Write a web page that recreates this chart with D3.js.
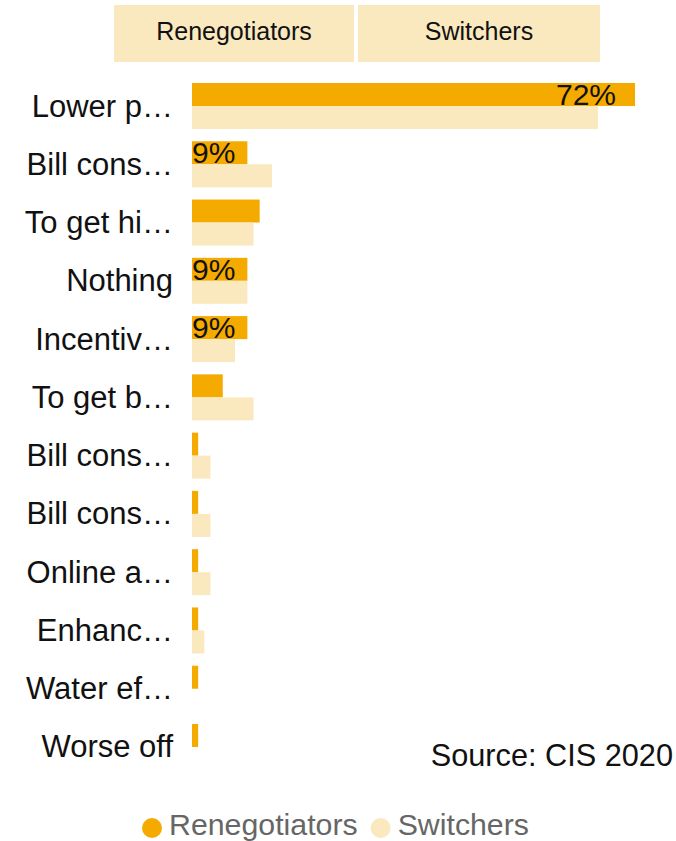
<!DOCTYPE html>
<html>
<head>
<meta charset="utf-8">
<script src="https://cdn.jsdelivr.net/npm/d3@7"></script>
<style>
  html, body { margin: 0; padding: 0; background: #fff; }
  svg { display: block; font-family: "Liberation Sans", Arial, sans-serif; }
</style>
</head>
<body>
<svg id="chart" width="676" height="841"></svg>
<script>
// Reasons given, as shown on the axis (labels are truncated in the chart)
const categories = [
  "Lower p…", "Bill cons…", "To get hi…", "Nothing", "Incentiv…", "To get b…",
  "Bill cons… ", "Bill cons…  ", "Online a…", "Enhanc…", "Water ef…", "Worse off"
];
const seriesNames = ["Renegotiators", "Switchers"];
const renegotiators = [72, 9, 11, 9, 9, 5, 1, 1, 1, 1, 1, 1];
const switchers     = [66, 13, 10, 9, 7, 10, 3, 3, 3, 2, 0, 0];
// Which renegotiator bars carry a value label
const renegLabelled = [true, true, false, true, true, false, false, false, false, false, false, false];
const sourceText = "Source: CIS 2020";

const colors = { "Renegotiators": "#f5aa00", "Switchers": "#fae8bf" };

const svg = d3.select("#chart");

const x = d3.scaleLinear().domain([0, 72]).range([192, 635]);
const y = d3.scaleBand().domain(categories).range([83, 770]).paddingInner(0.2106).paddingOuter(0);
const ySub = d3.scaleBand().domain(seriesNames).range([0, y.bandwidth()]);

const rows = categories.map((c, i) => ({
  cat: c,
  values: [
    { series: "Renegotiators", value: renegotiators[i], labelled: renegLabelled[i] },
    { series: "Switchers", value: switchers[i], labelled: false }
  ]
}));

// Header tabs for the two series
const tabs = svg.append("g").attr("class", "tabs");
const tabX = [[114, 354], [358, 600]];
seriesNames.forEach((s, i) => {
  tabs.append("rect")
    .attr("x", tabX[i][0]).attr("y", 5)
    .attr("width", tabX[i][1] - tabX[i][0]).attr("height", 57)
    .attr("fill", "#fae8bf");
  tabs.append("text")
    .attr("x", (tabX[i][0] + tabX[i][1]) / 2).attr("y", 40)
    .attr("text-anchor", "middle")
    .attr("font-size", 25).attr("fill", "#111")
    .text(s);
});

// Category labels
svg.append("g").selectAll("text").data(categories).join("text")
  .attr("x", 173)
  .attr("y", d => y(d) + y.bandwidth() / 2 + 10.5)
  .attr("text-anchor", "end")
  .attr("font-size", 31).attr("fill", "#111")
  .text(d => d.trim());

// Bars
const groups = svg.append("g").selectAll("g").data(rows).join("g")
  .attr("transform", d => `translate(0,${y(d.cat)})`);

groups.selectAll("rect").data(d => d.values).join("rect")
  .attr("x", x(0))
  .attr("y", d => ySub(d.series))
  .attr("width", d => x(d.value) - x(0))
  .attr("height", ySub.bandwidth())
  .attr("fill", d => colors[d.series]);

// Value labels inside the bar end, kept inside the bar start
groups.selectAll("text.val").data(d => d.values.filter(v => v.labelled)).join("text")
  .attr("class", "val")
  .attr("font-size", 30).attr("fill", "#111")
  .attr("y", d => ySub(d.series) + ySub.bandwidth() - 1)
  .text(d => d3.format("d")(d.value) + "%")
  .attr("x", function(d) {
    const w = this.getComputedTextLength();
    return Math.max(x(0), x(d.value) - 19 - w);
  });

// Source note
svg.append("text")
  .attr("x", 673).attr("y", 766)
  .attr("text-anchor", "end")
  .attr("font-size", 30.7).attr("fill", "#111")
  .text(sourceText);

// Legend
const legend = svg.append("g").attr("class", "legend");
let lx = 142;
seriesNames.forEach(s => {
  legend.append("circle")
    .attr("cx", lx + 10).attr("cy", 828).attr("r", 10)
    .attr("fill", colors[s]);
  const t = legend.append("text")
    .attr("x", lx + 27).attr("y", 835)
    .attr("font-size", 30.3).attr("fill", "#666")
    .text(s);
  lx += 27 + t.node().getComputedTextLength() + 13;
});
</script>
</body>
</html>
